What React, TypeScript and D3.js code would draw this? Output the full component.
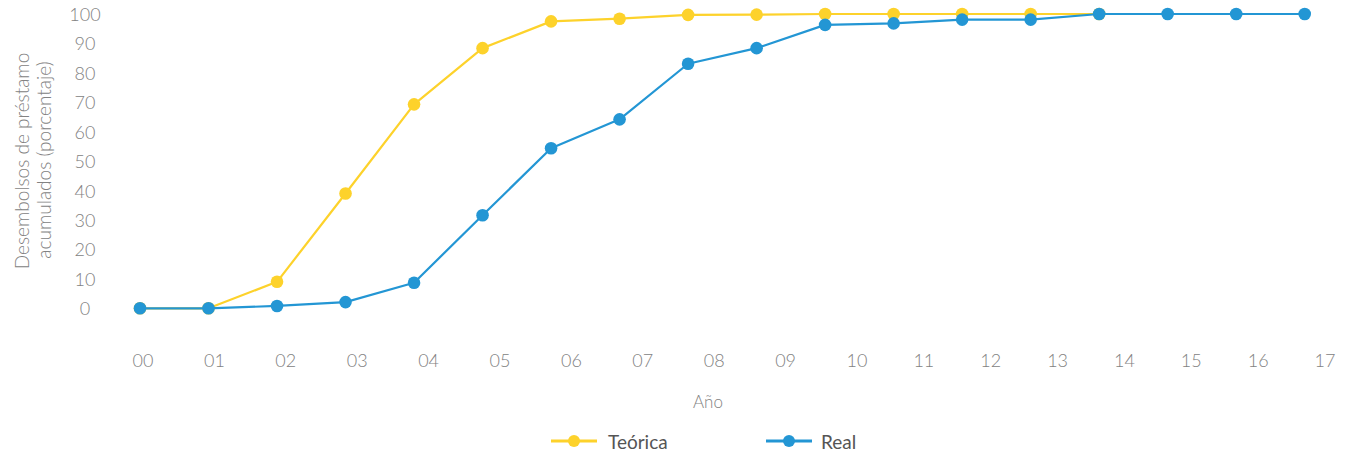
import React from "react";
import * as d3 from "d3";

// Años del eje horizontal
const years = ["00", "01", "02", "03", "04", "05", "06", "07", "08", "09", "10", "11", "12", "13", "14", "15", "16", "17"];

// Desembolsos acumulados (%) por año
const teorica = [0, 0, 9, 39, 69.3, 88.4, 97.5, 98.4, 99.7, 99.8, 100, 100, 100, 100, 100];
const real = [0, 0, 0.8, 2.1, 8.7, 31.6, 54.4, 64.2, 83.1, 88.4, 96.3, 96.8, 98.1, 98.1, 100, 100, 100, 100];

const yTicks = [0, 10, 20, 30, 40, 50, 60, 70, 80, 90, 100];

const series = [
  { name: "Teórica", values: teorica, color: "#FDD22B" },
  { name: "Real", values: real, color: "#2396D4" },
];

const W = 1347;
const H = 457;
const FONT = "Lato, 'Open Sans', sans-serif";
const GRAY = "#828282";

export default function App() {
  const x = d3.scalePoint<number>().domain(d3.range(years.length)).range([140, 1304.7]);
  // las etiquetas de año usan su propia escala, algo irregular
  const xLabel = d3.scaleLinear().domain([0, 10, 17]).range([143, 857, 1325]);
  const y = d3.scaleLinear().domain([0, 100]).range([308.3, 14]);

  const line = d3
    .line<number>()
    .x((_, i) => x(i) as number)
    .y((d) => y(d));

  const legendItems = [
    { ...series[0], lx: 551, tx: 608 },
    { ...series[1], lx: 766, tx: 821 },
  ];

  return (
    <svg
      width={W}
      height={H}
      style={{ position: "absolute", left: 0, top: 0, display: "block", background: "#fff" }}
      fontFamily={FONT}
      fontWeight={300}
    >
      {/* eje Y */}
      <g>
        {yTicks.map((t) => (
          <text key={t} x={85} y={y(t)} textAnchor="middle" dominantBaseline="central" fontSize={18} fill={GRAY}>
            {t}
          </text>
        ))}
        <text
          transform="translate(21,161) rotate(-90)"
          textAnchor="middle"
          dominantBaseline="central"
          fontSize={19}
          fill={GRAY}
        >
          Desembolsos de préstamo
        </text>
        <text
          transform="translate(43,160) rotate(-90)"
          textAnchor="middle"
          dominantBaseline="central"
          fontSize={19}
          fill={GRAY}
        >
          acumulados (porcentaje)
        </text>
      </g>

      {/* eje X */}
      <g>
        {years.map((yr, i) => (
          <text key={yr} x={xLabel(i)} y={360} textAnchor="middle" dominantBaseline="central" fontSize={18} fill={GRAY}>
            {yr}
          </text>
        ))}
        <text x={708} y={401} textAnchor="middle" dominantBaseline="central" fontSize={17} fill={GRAY}>
          Año
        </text>
      </g>

      {/* series */}
      {series.map((s) => (
        <g key={s.name}>
          <path d={line(s.values) || ""} fill="none" stroke={s.color} strokeWidth={2.2} strokeLinejoin="round" />
          {s.values.map((v, i) => (
            <circle key={i} cx={x(i)} cy={y(v)} r={6.3} fill={s.color} />
          ))}
        </g>
      ))}

      {/* leyenda */}
      <g>
        {legendItems.map((it) => (
          <g key={it.name}>
            <line x1={it.lx} x2={it.lx + 46} y1={441} y2={441} stroke={it.color} strokeWidth={3} />
            <circle cx={it.lx + 23} cy={441} r={6} fill={it.color} />
            <text x={it.tx} y={441} dominantBaseline="central" fontSize={19} fontWeight={400} fill="#555">
              {it.name}
            </text>
          </g>
        ))}
      </g>
    </svg>
  );
}
